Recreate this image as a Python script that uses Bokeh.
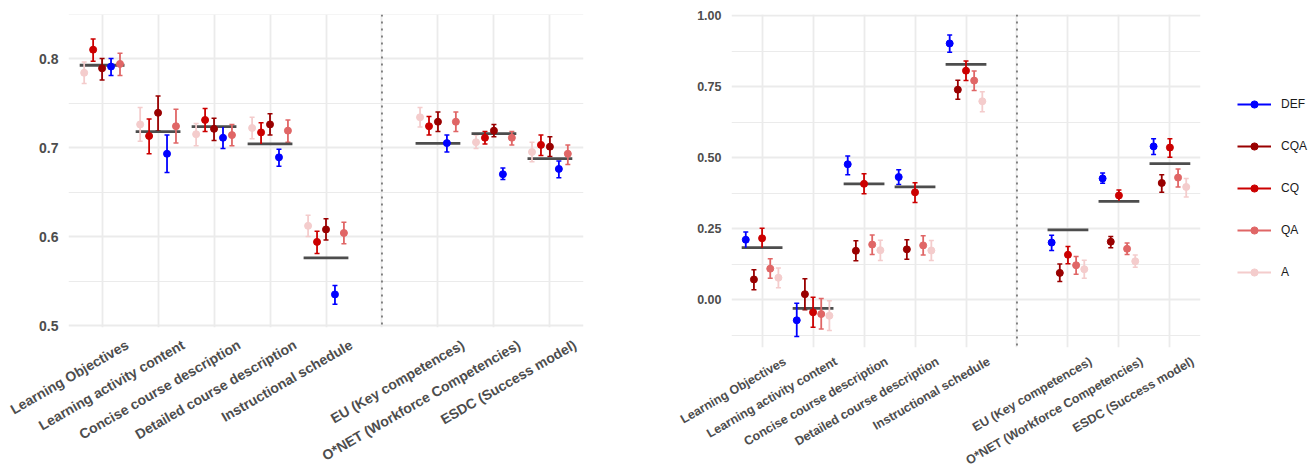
import numpy as np
from bokeh.plotting import figure
from bokeh.models import (ColumnDataSource, FixedTicker, Span, Whisker, TeeHead,
                          Legend, LegendItem, Range1d, PrintfTickFormatter, LinearAxis)
from bokeh.layouts import row
from bokeh.embed import file_html
from bokeh.resources import INLINE

categories = ["Learning Objectives", "Learning activity content", "Concise course description",
              "Detailed course description", "Instructional schedule", "",
              "EU (Key competences)", "O*NET (Workforce Competencies)", "ESDC (Success model)"]
models = ["DEF", "CQA", "CQ", "QA", "A"]
colors = {"DEF": "#0000FF", "CQA": "#990000", "CQ": "#CC0000", "QA": "#E06666", "A": "#F4CCCC"}

# ---- left panel ----
left_mean = [0.7925, 0.718, 0.7236, 0.7042, 0.576, 0.7048, 0.7157, 0.6876]
left_A_val = [0.784, 0.726, 0.715, 0.722, 0.612, 0.734, 0.706, 0.695]
left_A_lo = [0.772, 0.707, 0.702, 0.710, 0.600, 0.723, 0.699, 0.684]
left_A_hi = [0.796, 0.745, 0.727, 0.734, 0.624, 0.745, 0.714, 0.706]
left_CQ_val = [0.810, 0.713, 0.731, 0.717, 0.594, 0.724, 0.711, 0.703]
left_CQ_lo = [0.797, 0.693, 0.718, 0.704, 0.581, 0.714, 0.704, 0.691]
left_CQ_hi = [0.822, 0.732, 0.744, 0.728, 0.606, 0.735, 0.718, 0.714]
left_CQA_val = [0.789, 0.739, 0.721, 0.726, 0.608, 0.729, 0.719, 0.701]
left_CQA_lo = [0.776, 0.719, 0.708, 0.714, 0.596, 0.718, 0.712, 0.690]
left_CQA_hi = [0.800, 0.758, 0.733, 0.738, 0.620, 0.740, 0.726, 0.712]
left_DEF_val = [0.791, 0.693, 0.711, 0.689, 0.535, 0.705, 0.670, 0.676]
left_DEF_lo = [0.781, 0.672, 0.699, 0.679, 0.524, 0.695, 0.664, 0.666]
left_DEF_hi = [0.800, 0.714, 0.723, 0.698, 0.545, 0.714, 0.677, 0.685]
left_QA_val = [0.794, 0.724, 0.714, 0.719, 0.604, 0.729, 0.711, 0.693]
left_QA_lo = [0.781, 0.705, 0.702, 0.706, 0.592, 0.718, 0.703, 0.681]
left_QA_hi = [0.806, 0.743, 0.726, 0.731, 0.616, 0.740, 0.718, 0.703]
left_yticks = [0.5, 0.6, 0.7, 0.8]

# ---- right panel ----
right_mean = [0.183, -0.031, 0.408, 0.397, 0.829, 0.246, 0.346, 0.479]
right_DEF_val = [0.211, -0.073, 0.477, 0.432, 0.903, 0.201, 0.427, 0.540]
right_DEF_lo = [0.183, -0.130, 0.440, 0.406, 0.872, 0.173, 0.410, 0.511]
right_DEF_hi = [0.238, -0.013, 0.506, 0.458, 0.933, 0.227, 0.446, 0.567]
right_CQA_val = [0.071, 0.019, 0.172, 0.177, 0.740, 0.094, 0.204, 0.411]
right_CQA_lo = [0.035, -0.036, 0.137, 0.142, 0.706, 0.064, 0.183, 0.378]
right_CQA_hi = [0.105, 0.073, 0.207, 0.211, 0.773, 0.125, 0.222, 0.440]
right_CQ_val = [0.216, -0.045, 0.408, 0.378, 0.807, 0.158, 0.367, 0.536]
right_CQ_lo = [0.183, -0.098, 0.373, 0.342, 0.772, 0.126, 0.348, 0.502]
right_CQ_hi = [0.251, 0.008, 0.444, 0.412, 0.841, 0.187, 0.386, 0.567]
right_QA_val = [0.109, -0.051, 0.194, 0.191, 0.772, 0.121, 0.179, 0.430]
right_QA_lo = [0.075, -0.104, 0.159, 0.157, 0.737, 0.089, 0.159, 0.397]
right_QA_hi = [0.144, 0.004, 0.228, 0.225, 0.806, 0.152, 0.199, 0.460]
right_A_val = [0.077, -0.057, 0.174, 0.173, 0.699, 0.107, 0.135, 0.397]
right_A_lo = [0.042, -0.109, 0.138, 0.138, 0.662, 0.075, 0.114, 0.362]
right_A_hi = [0.111, -0.004, 0.209, 0.208, 0.733, 0.139, 0.157, 0.427]
right_yticks = [0.0, 0.25, 0.5, 0.75, 1.0]

left_data = {
    "A": (left_A_val, left_A_lo, left_A_hi),
    "CQ": (left_CQ_val, left_CQ_lo, left_CQ_hi),
    "CQA": (left_CQA_val, left_CQA_lo, left_CQA_hi),
    "DEF": (left_DEF_val, left_DEF_lo, left_DEF_hi),
    "QA": (left_QA_val, left_QA_lo, left_QA_hi),
}
right_data = {
    "DEF": (right_DEF_val, right_DEF_lo, right_DEF_hi),
    "CQA": (right_CQA_val, right_CQA_lo, right_CQA_hi),
    "CQ": (right_CQ_val, right_CQ_lo, right_CQ_hi),
    "QA": (right_QA_val, right_QA_lo, right_QA_hi),
    "A": (right_A_val, right_A_lo, right_A_hi),
}

cat_x = [i + 1 for i, c in enumerate(categories) if c]
sep_x = [i + 1 for i, c in enumerate(categories) if not c][0]
all_x = list(range(1, len(categories) + 1))

FONT = "Liberation Sans"
GRID = "#EBEBEB"
TXT = "#4D4D4D"


def style_axis(ax, size):
    ax.axis_line_color = None
    ax.major_tick_line_color = None
    ax.minor_tick_line_color = None
    ax.major_tick_out = 0
    ax.major_tick_in = 0
    ax.minor_tick_out = 0
    ax.minor_tick_in = 0
    ax.major_label_text_font = FONT
    ax.major_label_text_font_style = "bold"
    ax.major_label_text_color = TXT
    ax.major_label_text_font_size = size


def make_panel(data, order, means, yticks, yrange, fmt, frame, borders, lab_size,
               label_shift, label_standoff):
    bl, br, bt, bb = borders
    fw, fh = frame
    x0, x1 = 0.4, len(categories) + 0.6
    p = figure(frame_width=fw, frame_height=fh, x_range=Range1d(x0, x1),
               y_range=Range1d(*yrange), output_backend="svg", toolbar_location=None,
               title=None, x_axis_location=None,
               min_border_left=bl, min_border_right=br, min_border_top=bt, min_border_bottom=bb)
    p.outline_line_color = None
    # category label axis (labels sit slightly right of their tick, as in the reference)
    p.extra_x_ranges = {"lab": Range1d(x0 - label_shift, x1 - label_shift)}
    xax = LinearAxis(x_range_name="lab", ticker=FixedTicker(ticks=all_x),
                     major_label_overrides={i + 1: c for i, c in enumerate(categories)},
                     major_label_orientation=np.pi / 6)
    style_axis(xax, lab_size)
    xax.major_label_standoff = label_standoff
    p.add_layout(xax, "below")
    p.xgrid.ticker = FixedTicker(ticks=all_x)

    minor = [(a + b) / 2 for a, b in zip(yticks[:-1], yticks[1:])]
    step = yticks[1] - yticks[0]
    minor = [yticks[0] - step / 2] + minor + [yticks[-1] + step / 2]
    p.yaxis.ticker = FixedTicker(ticks=yticks, minor_ticks=minor)
    p.yaxis.formatter = PrintfTickFormatter(format=fmt)
    style_axis(p.yaxis[0], lab_size)
    p.yaxis.major_label_standoff = 10

    p.xgrid.grid_line_color = GRID
    p.xgrid.grid_line_width = 1.8
    p.ygrid.grid_line_color = GRID
    p.ygrid.grid_line_width = 1.8
    p.ygrid.minor_grid_line_color = GRID
    p.ygrid.minor_grid_line_width = 1.2

    p.add_layout(Span(location=sep_x, dimension="height", line_color="#555555",
                      line_width=1.4, line_dash="2 5"))

    msrc = ColumnDataSource(dict(x0=[x - 0.4 for x in cat_x], x1=[x + 0.4 for x in cat_x], y=means))
    p.segment(x0="x0", x1="x1", y0="y", y1="y", source=msrc, line_color="#4D4D4D", line_width=2.8)

    rends = {}
    n = len(order)
    for k, m in enumerate(order):
        val, lo, hi = data[m]
        off = (k - (n - 1) / 2) * 0.16
        src = ColumnDataSource(dict(x=[x + off for x in cat_x], y=val, lo=lo, hi=hi))
        seg = p.segment(x0="x", x1="x", y0="lo", y1="hi", source=src, line_color=colors[m], line_width=1.8)
        w = Whisker(base="x", lower="lo", upper="hi", source=src, dimension="height",
                    line_alpha=0,
                    upper_head=TeeHead(size=5, line_color=colors[m], line_width=1.5),
                    lower_head=TeeHead(size=5, line_color=colors[m], line_width=1.5))
        p.add_layout(w)
        sc = p.scatter(x="x", y="y", source=src, size=7, fill_color=colors[m], line_color=colors[m])
        rends[m] = (seg, sc)
    return p, rends


left_order = sorted(models)
p1, _ = make_panel(left_data, left_order, left_mean, left_yticks, (0.4978, 0.8495), "%.1f",
                   (515, 313), (68, 32, 14, 139), "14px", 0.45, 16)

p2, rends = make_panel(right_data, models, right_mean, right_yticks, (-0.169, 1.005), "%.2f",
                       (469, 333), (116, 108, 14, 119), "12.5px", 0.45, 13)
legend = Legend(items=[LegendItem(label=m, renderers=list(rends[m])) for m in models],
                location=(37, 66), glyph_width=34, glyph_height=18, spacing=24,
                label_standoff=10, label_text_font=FONT, label_text_font_size="12px",
                label_text_color="#1A1A1A", border_line_color=None, background_fill_color=None,
                padding=0, margin=0)
p2.add_layout(legend, "right")

layout = row(p1, p2)
open("out.html", "w").write(file_html(layout, INLINE))
